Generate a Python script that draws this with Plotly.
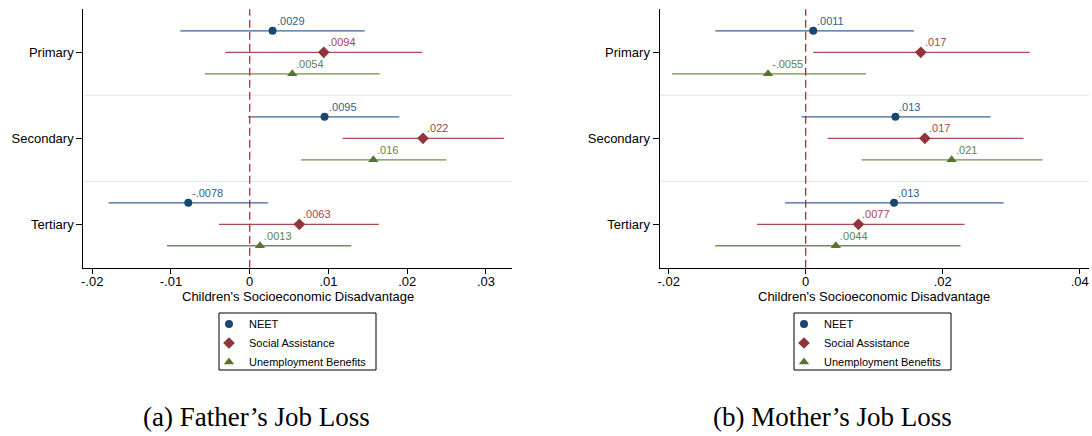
import plotly.graph_objects as go

# ---------------- data ----------------
categories = ["Primary", "Secondary", "Tertiary"]
series_names = ["NEET", "Social Assistance", "Unemployment Benefits"]

# Father's job loss (panel a)
father_neet = [0.0029, 0.0095, -0.0078]
father_neet_lo = [-0.0088, -0.0002, -0.0179]
father_neet_hi = [0.0146, 0.0190, 0.0023]
father_sa = [0.0094, 0.0220, 0.0063]
father_sa_lo = [-0.0031, 0.0118, -0.0039]
father_sa_hi = [0.0219, 0.0323, 0.0164]
father_ub = [0.0054, 0.0157, 0.0013]
father_ub_lo = [-0.0057, 0.0065, -0.0105]
father_ub_hi = [0.0165, 0.0250, 0.0129]

# Mother's job loss (panel b)
mother_neet = [0.0011, 0.0131, 0.0129]
mother_neet_lo = [-0.0132, -0.0006, -0.0030]
mother_neet_hi = [0.0158, 0.0270, 0.0289]
mother_sa = [0.0168, 0.0174, 0.0077]
mother_sa_lo = [0.0011, 0.0032, -0.0071]
mother_sa_hi = [0.0327, 0.0318, 0.0232]
mother_ub = [-0.0055, 0.0213, 0.0044]
mother_ub_lo = [-0.0195, 0.0082, -0.0132]
mother_ub_hi = [0.0088, 0.0346, 0.0226]

left_ticks = [-0.02, -0.01, 0, 0.01, 0.02, 0.03]
left_ticktext = ["-.02", "-.01", "0", ".01", ".02", ".03"]
right_ticks = [-0.02, 0, 0.02, 0.04]
right_ticktext = ["-.02", "0", ".02", ".04"]

x_title = "Children's Socioeconomic Disadvantage"
captions = ["(a) Father\u2019s Job Loss", "(b) Mother\u2019s Job Loss"]

# ---------------- style ----------------
W, H = 1092, 436
SANS = "Liberation Sans, Arial, sans-serif"
SERIF = "Liberation Serif, Times New Roman, serif"
marker_colors = ["#1a476f", "#90353b", "#55752f"]
line_colors = ["#3a6590", "#ab4a51", "#6f9045"]
label_colors = ["#2f5f8f", "#a8434a", "#62843a"]
symbols = ["circle", "diamond", "triangle-up"]
msizes = [8, 9, 9]
offsets = [-0.25, 0.0, 0.25]


def fmt(v):
    s = f"{v:.2g}"
    if "e" in s:
        s = f"{v:.6f}".rstrip("0")
    return s.replace("0.", ".", 1)


panels = [
    dict(est=[father_neet, father_sa, father_ub],
         lo=[father_neet_lo, father_sa_lo, father_ub_lo],
         hi=[father_neet_hi, father_sa_hi, father_ub_hi],
         xa="x", ya="y", legend="legend"),
    dict(est=[mother_neet, mother_sa, mother_ub],
         lo=[mother_neet_lo, mother_sa_lo, mother_ub_lo],
         hi=[mother_neet_hi, mother_sa_hi, mother_ub_hi],
         xa="x2", ya="y2", legend="legend2"),
]

fig = go.Figure()
annotations = []
for p in panels:
    for s in range(3):
        est = p["est"][s]
        lo = p["lo"][s]
        hi = p["hi"][s]
        ys = [i + offsets[s] for i in range(len(categories))]
        fig.add_trace(go.Scatter(
            x=est, y=ys, mode="markers", name=series_names[s],
            xaxis=p["xa"], yaxis=p["ya"], legend=p["legend"],
            marker=dict(symbol=symbols[s], size=msizes[s], color=marker_colors[s],
                        line=dict(width=0)),
            error_x=dict(type="data", symmetric=False,
                         array=[h - e for h, e in zip(hi, est)],
                         arrayminus=[e - l for e, l in zip(est, lo)],
                         width=0, thickness=1.3, color=line_colors[s]),
            hoverinfo="skip",
        ))
        for e, yv in zip(est, ys):
            annotations.append(dict(
                x=e, y=yv, xref=p["xa"], yref=p["ya"], text=fmt(e),
                showarrow=False, xanchor="left", yanchor="bottom",
                xshift=2, yshift=2,
                font=dict(family=SANS, size=11, color=label_colors[s])))

# geometry (pixels)
left_dom = [83.3 / W, 512.3 / W]
right_dom = [659.5 / W, 1089 / W]
y_dom = [1 - 267.7 / H, 1 - 9.3 / H]


def xaxis(dom, rng, tv, tt, anchor):
    return dict(domain=dom, range=rng, anchor=anchor, tickvals=tv, ticktext=tt,
                showline=True, linecolor="black", linewidth=1, ticks="outside",
                ticklen=5, tickcolor="black", tickwidth=1, showgrid=False,
                zeroline=False, automargin=False, ticklabelstandoff=-3,
                tickfont=dict(family=SANS, size=13, color="black"))


def yaxis(anchor):
    return dict(domain=y_dom, range=[2.505, -0.5], anchor=anchor,
                tickvals=list(range(len(categories))), ticktext=categories,
                showline=True, linecolor="black", linewidth=1, ticks="outside",
                ticklen=6, tickcolor="black", tickwidth=1, showgrid=False,
                zeroline=False, automargin=False,
                tickfont=dict(family=SANS, size=13, color="black"))


shapes = []
for xa, ya in [("x", "y"), ("x2", "y2")]:
    for i in range(len(categories) - 1):
        shapes.append(dict(type="line", xref=xa + " domain", yref=ya,
                           x0=0, x1=1, y0=i + 0.5, y1=i + 0.5, layer="below",
                           line=dict(color="#e3eaee", width=1.2)))
    shapes.append(dict(type="line", xref=xa, yref=ya + " domain", x0=0, x1=0,
                       y0=0, y1=1, layer="above",
                       line=dict(color="#cc1f3c", width=1.3, dash="8px,4px")))

# legend frames
for x0 in [219, 794]:
    shapes.append(dict(type="rect", xref="paper", yref="paper",
                       x0=x0 / W, x1=(x0 + 157) / W, y0=1 - 370 / H, y1=1 - 313 / H,
                       line=dict(color="black", width=1), fillcolor="rgba(0,0,0,0)"))

# axis titles and captions
for cx in [(83.3 + 512.3) / 2, (659.5 + 1089) / 2]:
    annotations.append(dict(x=cx / W, y=1 - 296.7 / H, xref="paper", yref="paper",
                            text=x_title, showarrow=False, xanchor="center",
                            yanchor="middle",
                            font=dict(family=SANS, size=13, color="black")))
for cap, cx in zip(captions, [256, 832]):
    annotations.append(dict(x=cx / W, y=1 - 417 / H, xref="paper", yref="paper",
                            text=cap, showarrow=False, xanchor="center",
                            yanchor="middle",
                            font=dict(family=SERIF, size=27, color="black")))

legend_style = dict(bgcolor="rgba(0,0,0,0)", borderwidth=0, xanchor="left",
                    yanchor="top", tracegroupgap=0, itemwidth=30,
                    font=dict(family=SANS, size=11, color="black"))

fig.update_layout(
    template="none",
    width=W, height=H, margin=dict(l=0, r=0, t=0, b=0, autoexpand=False),
    paper_bgcolor="white", plot_bgcolor="white",
    xaxis=xaxis(left_dom, [-0.02113, 0.03334], left_ticks, left_ticktext, "y"),
    yaxis=yaxis("x"),
    xaxis2=xaxis(right_dom, [-0.02134, 0.04136], right_ticks, right_ticktext, "y2"),
    yaxis2=yaxis("x2"),
    legend=dict(x=(219 - 10) / W, y=1 - 309.5 / H, **legend_style),
    legend2=dict(x=(794 - 10) / W, y=1 - 309.5 / H, **legend_style),
    shapes=shapes, annotations=annotations, showlegend=True,
)

fig.write_html("out.html", config={"displayModeBar": False},
               post_script="document.body.style.margin='0';")
